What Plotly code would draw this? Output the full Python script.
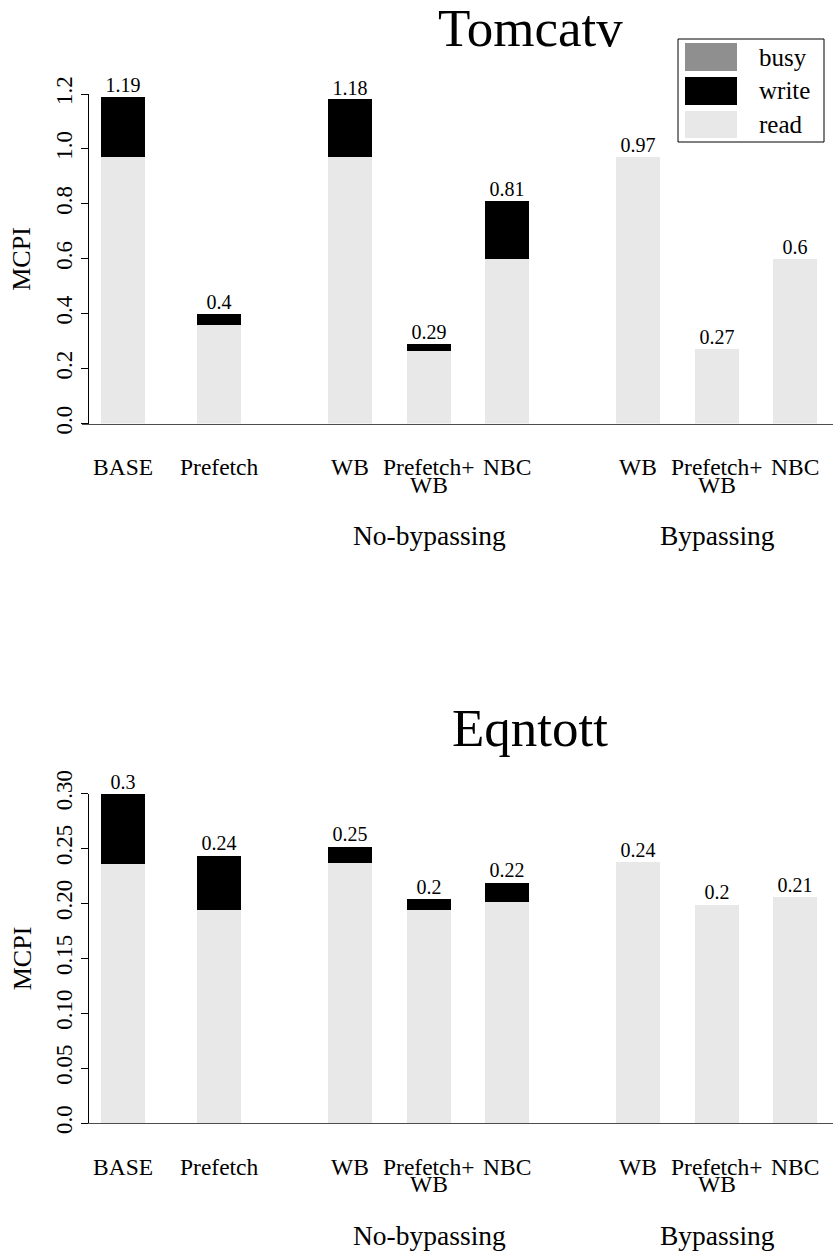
import plotly.graph_objects as go

# ---- data ----
categories = ["BASE", "Prefetch", "WB", "Prefetch+<br>WB", "NBC", "WB", "Prefetch+<br>WB", "NBC"]
groups = ["No-bypassing", "Bypassing"]
group_members = [3, 6]  # group label sits under this bar

tomcatv_read = [0.97, 0.36, 0.97, 0.265, 0.60, 0.97, 0.27, 0.60]
tomcatv_write = [0.22, 0.04, 0.21, 0.025, 0.21, 0.0, 0.0, 0.0]
tomcatv_busy = [0.0] * 8

eqntott_read = [0.236, 0.194, 0.237, 0.194, 0.202, 0.238, 0.199, 0.206]
eqntott_write = [0.064, 0.050, 0.015, 0.010, 0.017, 0.0, 0.0, 0.0]
eqntott_busy = [0.0] * 8

tomcatv_ticks = [0.0, 0.2, 0.4, 0.6, 0.8, 1.0, 1.2]
tomcatv_ticktext = ["0.0", "0.2", "0.4", "0.6", "0.8", "1.0", "1.2"]
eqntott_ticks = [0.0, 0.05, 0.10, 0.15, 0.20, 0.25, 0.30]
eqntott_ticktext = ["0.0", "0.05", "0.10", "0.15", "0.20", "0.25", "0.30"]

# ---- layout constants (pixels) ----
W, H = 833, 1251
FONT = "Liberation Serif"
bar_x = [123, 219, 350, 429, 507, 638, 717, 795]
bar_w = 44
C_READ, C_WRITE, C_BUSY = "#e8e8e8", "#000000", "#8f8f8f"


def py(y):
    return 1 - y / H


def px(x):
    return x / W


panels = [
    dict(title="Tomcatv", read=tomcatv_read, write=tomcatv_write, busy=tomcatv_busy,
         ymax=1.2, ticks=tomcatv_ticks, ticktext=tomcatv_ticktext,
         top=94, bottom=423.5, legend=True),
    dict(title="Eqntott", read=eqntott_read, write=eqntott_write, busy=eqntott_busy,
         ymax=0.30, ticks=eqntott_ticks, ticktext=eqntott_ticktext,
         top=793.5, bottom=1123, legend=False),
]

fig = go.Figure()
annotations = []
shapes = []
layout = {}

for i, p in enumerate(panels):
    n = "" if i == 0 else str(i + 1)
    xa, ya = "x" + n, "y" + n
    totals = [r + w + b for r, w, b in zip(p["read"], p["write"], p["busy"])]
    for name, vals, col in (("read", p["read"], C_READ),
                            ("write", p["write"], C_WRITE),
                            ("busy", p["busy"], C_BUSY)):
        fig.add_trace(go.Bar(x=bar_x, y=vals, width=bar_w, name=name,
                             marker=dict(color=col, line=dict(width=0)),
                             xaxis=xa, yaxis=ya, showlegend=False))
    fig.add_trace(go.Scatter(
        x=bar_x, y=totals, mode="text",
        text=[f"{round(t, 2):g}" for t in totals],
        textposition="top center",
        textfont=dict(family=FONT, size=20, color="black"),
        cliponaxis=False, xaxis=xa, yaxis=ya, showlegend=False, hoverinfo="skip"))

    layout["xaxis" + n] = dict(domain=[px(82), 1], range=[82, W], anchor=ya,
                               showline=True, linecolor="#4d4d4d", linewidth=1,
                               showgrid=False, zeroline=False, showticklabels=False,
                               ticks="", fixedrange=True)
    layout["yaxis" + n] = dict(domain=[py(p["bottom"]), py(p["top"])],
                               range=[0, p["ymax"]], anchor="free", position=px(88),
                               showline=True, linecolor="black", linewidth=1,
                               ticks="outside", ticklen=7, tickcolor="black",
                               tickvals=p["ticks"], ticktext=p["ticktext"],
                               tickangle=-90,
                               tickfont=dict(family=FONT, size=23, color="black"),
                               showgrid=False, zeroline=False, fixedrange=True)

    base = p["bottom"]
    # title
    annotations.append(dict(text=p["title"], x=px(530), y=py(p["top"] - 66),
                            xref="paper", yref="paper", showarrow=False,
                            xanchor="center", yanchor="middle",
                            font=dict(family=FONT, size=53, color="black")))
    # y-axis title
    annotations.append(dict(text="MCPI", x=px(22), y=py((p["top"] + p["bottom"]) / 2),
                            xref="paper", yref="paper", showarrow=False, textangle=-90,
                            xanchor="center", yanchor="middle",
                            font=dict(family=FONT, size=26, color="black")))
    # category labels
    for cx, lab in zip(bar_x, categories):
        lines = lab.split("<br>")
        for k, line in enumerate(lines):
            annotations.append(dict(text=line, x=cx, xref=xa, y=py(base + 44 + 17 * k),
                                    yref="paper", showarrow=False,
                                    xanchor="center", yanchor="middle",
                                    font=dict(family=FONT, size=23.5, color="black")))
    # group labels
    for g, idx in zip(groups, group_members):
        annotations.append(dict(text=g, x=bar_x[idx], xref=xa, y=py(base + 112),
                                yref="paper", showarrow=False,
                                xanchor="center", yanchor="middle",
                                font=dict(family=FONT, size=27.5, color="black")))

    if p["legend"]:
        shapes.append(dict(type="rect", xref="paper", yref="paper",
                           x0=px(678), x1=px(824), y0=py(142), y1=py(39),
                           line=dict(color="black", width=1), fillcolor="white"))
        for (name, col), (y0, y1) in zip((("busy", C_BUSY), ("write", C_WRITE), ("read", C_READ)),
                                         ((43, 71), (77, 105), (111, 138))):
            shapes.append(dict(type="rect", xref="paper", yref="paper",
                               x0=px(685), x1=px(737), y0=py(y1), y1=py(y0),
                               line=dict(width=0), fillcolor=col))
            annotations.append(dict(text=name, x=px(757), y=py((y0 + y1) / 2),
                                    xref="paper", yref="paper", showarrow=False,
                                    xanchor="left", yanchor="middle",
                                    font=dict(family=FONT, size=25, color="black")))

fig.update_layout(
    width=W, height=H, margin=dict(l=0, r=0, t=0, b=0, autoexpand=False),
    paper_bgcolor="white", plot_bgcolor="white",
    barmode="stack", bargap=0, showlegend=False,
    annotations=annotations, shapes=shapes,
    font=dict(family=FONT, color="black"),
    **layout,
)

fig.write_html("out.html")
